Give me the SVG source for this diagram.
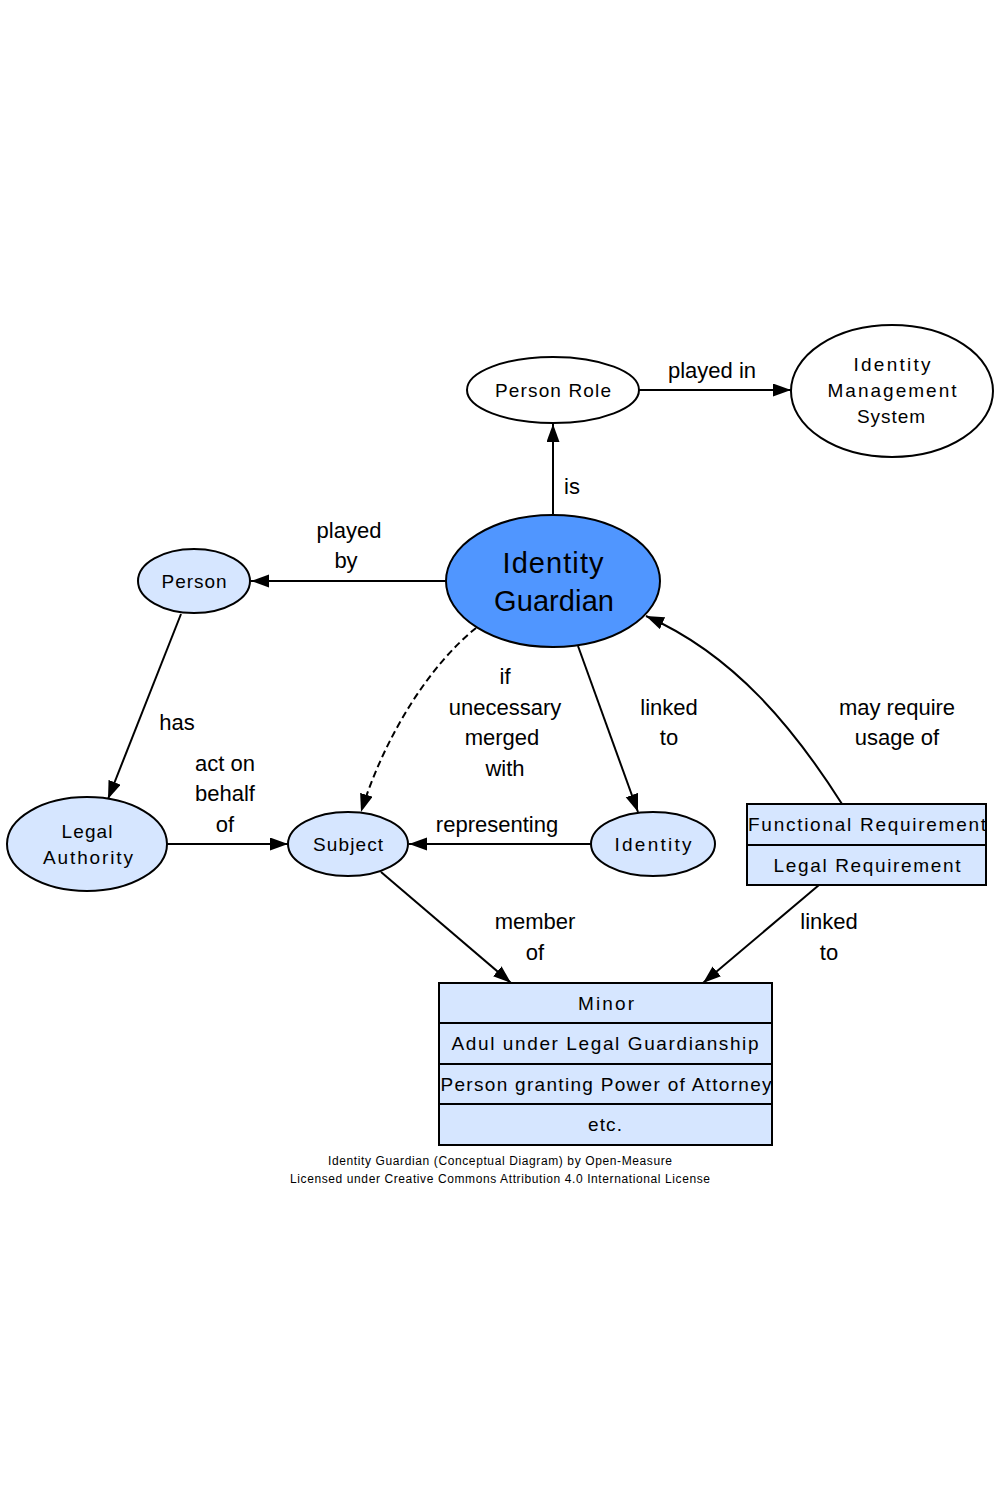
<svg xmlns="http://www.w3.org/2000/svg" width="1000" height="1500" viewBox="0 0 1000 1500">
<style>
.n{stroke:#000;stroke-width:2}
.lt{fill:#d6e6ff}
.wh{fill:#fff}
.bl{fill:#5096ff}
.t{font-family:"Liberation Sans",Arial,sans-serif;font-size:19px;fill:#000;text-anchor:middle}
.e{font-family:"Liberation Sans",Arial,sans-serif;font-size:22px;fill:#000;text-anchor:middle}
.c{stroke:#000;stroke-width:2;fill:none}
.f{font-family:"Liberation Sans",Arial,sans-serif;font-size:12px;fill:#000;text-anchor:middle}
</style>
<defs>
<marker id="ah" markerUnits="userSpaceOnUse" markerWidth="19" markerHeight="14" refX="18" refY="6.5" orient="auto">
<path d="M0,0 L18,6.5 L0,13 z" fill="#000"/>
</marker>
</defs>
<rect width="1000" height="1500" fill="#fff"/>
<g id="connectors">
<path class="c" d="M639,390 L791,390" marker-end="url(#ah)"/>
<text class="e" x="712" y="378">played in</text>
<path class="c" d="M553,515 L553,424" marker-end="url(#ah)"/>
<text class="e" x="572" y="494">is</text>
<path class="c" d="M446,581 L251,581" marker-end="url(#ah)"/>
<text class="e" x="349" y="538">played</text>
<text class="e" x="346" y="568">by</text>
<path class="c" d="M181,614 L108,799" marker-end="url(#ah)"/>
<text class="e" x="177" y="730">has</text>
<path class="c" d="M167,844 L288,844" marker-end="url(#ah)"/>
<text class="e" x="225" y="771">act on</text>
<text class="e" x="225" y="801">behalf</text>
<text class="e" x="225" y="832">of</text>
<path class="c" d="M591,844 L409,844" marker-end="url(#ah)"/>
<text class="e" x="497" y="832">representing</text>
<path class="c" d="M476,628 C430,665 385,735 361,812" stroke-dasharray="7,4" marker-end="url(#ah)"/>
<text class="e" x="505" y="684">if</text>
<text class="e" x="505" y="715">unecessary</text>
<text class="e" x="502" y="745">merged</text>
<text class="e" x="505" y="776">with</text>
<path class="c" d="M578,646 L638,812" marker-end="url(#ah)"/>
<text class="e" x="669" y="715">linked</text>
<text class="e" x="669" y="745">to</text>
<path class="c" d="M842,804 C795,730 735,655 646,616" marker-end="url(#ah)"/>
<text class="e" x="897" y="715">may require</text>
<text class="e" x="897" y="745">usage of</text>
<path class="c" d="M381,872 L511,983" marker-end="url(#ah)"/>
<text class="e" x="535" y="929">member</text>
<text class="e" x="535" y="960">of</text>
<path class="c" d="M819,885 L703,983" marker-end="url(#ah)"/>
<text class="e" x="829" y="929">linked</text>
<text class="e" x="829" y="960">to</text>
</g>
<g id="person-role">
<ellipse class="n wh" cx="553" cy="390" rx="86" ry="33"/>
<text class="t" x="553" y="397" textLength="116" lengthAdjust="spacing">Person Role</text>
</g>
<g id="ims">
<ellipse class="n wh" cx="892" cy="391" rx="101" ry="66"/>
<text class="t" x="892" y="371" textLength="77" lengthAdjust="spacing">Identity</text>
<text class="t" x="892" y="397" textLength="129" lengthAdjust="spacing">Management</text>
<text class="t" x="891" y="423" textLength="68" lengthAdjust="spacing">System</text>
</g>
<g id="identity-guardian">
<ellipse class="n bl" cx="553" cy="581" rx="107" ry="66"/>
<text class="t" x="553" y="573" style="font-size:29px" textLength="101" lengthAdjust="spacing">Identity</text>
<text class="t" x="554" y="611" style="font-size:29px" textLength="120" lengthAdjust="spacing">Guardian</text>
</g>
<g id="person">
<ellipse class="n lt" cx="194" cy="581" rx="56" ry="32"/>
<text class="t" x="194" y="588" textLength="65" lengthAdjust="spacing">Person</text>
</g>
<g id="legal-authority">
<ellipse class="n lt" cx="87" cy="844" rx="80" ry="47"/>
<text class="t" x="87" y="838" textLength="51" lengthAdjust="spacing">Legal</text>
<text class="t" x="88" y="864" textLength="90" lengthAdjust="spacing">Authority</text>
</g>
<g id="subject">
<ellipse class="n lt" cx="348" cy="844" rx="60" ry="32"/>
<text class="t" x="348" y="851" textLength="70" lengthAdjust="spacing">Subject</text>
</g>
<g id="identity">
<ellipse class="n lt" cx="653" cy="844" rx="62" ry="32"/>
<text class="t" x="653" y="851" textLength="77" lengthAdjust="spacing">Identity</text>
</g>
<g id="requirements">
<rect class="n lt" x="747" y="804" width="239" height="81"/>
<line class="n" x1="747" y1="845" x2="986" y2="845"/>
<text class="t" x="867" y="831" textLength="238" lengthAdjust="spacing">Functional Requirement</text>
<text class="t" x="867" y="872" textLength="187" lengthAdjust="spacing">Legal Requirement</text>
</g>
<g id="subject-types">
<rect class="n lt" x="439" y="983" width="333" height="162"/>
<line class="n" x1="439" y1="1023" x2="772" y2="1023"/>
<line class="n" x1="439" y1="1064" x2="772" y2="1064"/>
<line class="n" x1="439" y1="1104" x2="772" y2="1104"/>
<text class="t" x="606" y="1010" textLength="56" lengthAdjust="spacing">Minor</text>
<text class="t" x="605" y="1050" textLength="307" lengthAdjust="spacing">Adul under Legal Guardianship</text>
<text class="t" x="606" y="1091" textLength="331" lengthAdjust="spacing">Person granting Power of Attorney</text>
<text class="t" x="605" y="1131" textLength="34" lengthAdjust="spacing">etc.</text>
</g>
<g id="footer">
<text class="f" x="500" y="1165" textLength="344" lengthAdjust="spacing">Identity Guardian (Conceptual Diagram) by Open-Measure</text>
<text class="f" x="500" y="1183" textLength="420" lengthAdjust="spacing">Licensed under Creative Commons Attribution 4.0 International License</text>
</g>
</svg>
